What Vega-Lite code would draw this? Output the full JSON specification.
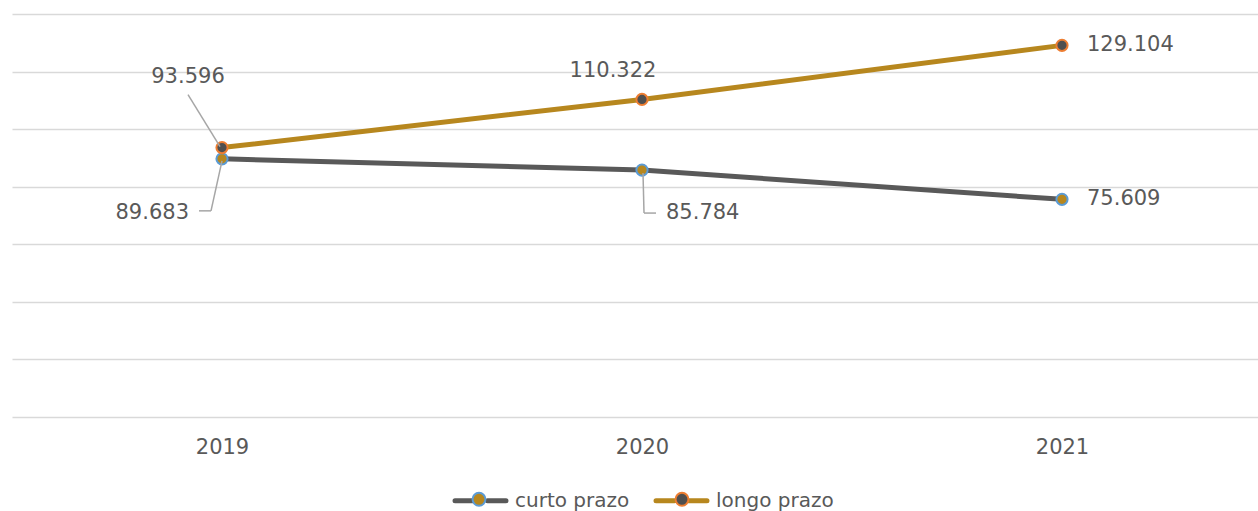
{
  "$schema": "https://vega.github.io/schema/vega-lite/v6.json",
  "width": 1246,
  "height": 403,
  "autosize": {"type": "none"},
  "padding": {"left": 12, "top": 14, "right": 0, "bottom": 94},
  "background": "white",
  "config": {"view": {"stroke": null}},
  "data": {
    "values": [
      {"year": "2019", "serie": "curto prazo", "value": 89.683},
      {"year": "2020", "serie": "curto prazo", "value": 85.784},
      {"year": "2021", "serie": "curto prazo", "value": 75.609},
      {"year": "2019", "serie": "longo prazo", "value": 93.596},
      {"year": "2020", "serie": "longo prazo", "value": 110.322},
      {"year": "2021", "serie": "longo prazo", "value": 129.104}
    ]
  },
  "encoding": {
    "x": {
      "field": "year",
      "type": "ordinal",
      "scale": {"type": "point", "padding": 0.48333, "align": 0.51724},
      "axis": {"title": null, "domain": false, "ticks": false, "grid": false, "labelAngle": 0, "labelFont": "DejaVu Sans", "labelFontSize": 21, "labelColor": "#595959", "labelPadding": 19}
    },
    "y": {
      "field": "value",
      "type": "quantitative",
      "scale": {"domain": [0, 140]},
      "axis": {"title": null, "values": [0, 20, 40, 60, 80, 100, 120, 140], "labels": false, "ticks": false, "domain": false, "grid": true, "gridColor": "#D9D9D9", "gridWidth": 1.5}
    }
  },
  "layer": [
    {
      "mark": {"type": "line", "strokeWidth": 5},
      "encoding": {
        "color": {
          "field": "serie",
          "type": "nominal",
          "scale": {"domain": ["curto prazo", "longo prazo"], "range": ["#595959", "#B7871E"]},
          "legend": {
            "title": null,
            "orient": "none",
            "legendX": 438,
            "legendY": 456,
            "direction": "horizontal",
            "symbolType": "M-0.91,0L-0.25,0M0.25,0L0.91,0",
            "symbolSize": 3136,
            "symbolStrokeWidth": 5,
            "labelFont": "DejaVu Sans",
            "labelFontSize": 20,
            "labelColor": "#595959",
            "labelOffset": 4,
            "columnPadding": 16,
            "encode": {
              "symbols": {
                "update": {
                  "strokeCap": {"value": "round"},
                  "fill": {"value": "transparent"},
                  "opacity": {"value": 1}
                }
              }
            }
          }
        }
      }
    },
    {
      "mark": {"type": "circle", "size": 125, "strokeWidth": 2, "opacity": 1},
      "encoding": {
        "fill": {
          "field": "serie", "type": "nominal",
          "scale": {"range": ["#B7871E", "#4F4F4F"]},
          "legend": {
            "title": null, "orient": "none", "legendX": 438, "legendY": 456, "direction": "horizontal",
            "symbolType": "M0.23,0A0.23,0.23,0,1,1,-0.23,0A0.23,0.23,0,1,1,0.23,0Z",
            "symbolSize": 3136, "symbolStrokeWidth": 2,
            "labelExpr": "''", "labelFontSize": 20, "labelOffset": 0, "columnPadding": 145,
            "encode": {"symbols": {"update": {"opacity": {"value": 1}}}}
          }
        },
        "stroke": {
          "field": "serie", "type": "nominal",
          "scale": {"range": ["#5B9BD5", "#ED7D31"]},
          "legend": {
            "title": null, "orient": "none", "legendX": 438, "legendY": 456, "direction": "horizontal",
            "symbolType": "M0.23,0A0.23,0.23,0,1,1,-0.23,0A0.23,0.23,0,1,1,0.23,0Z",
            "symbolSize": 3136, "symbolStrokeWidth": 2,
            "labelExpr": "''", "labelFontSize": 20, "labelOffset": 0, "columnPadding": 145,
            "encode": {"symbols": {"update": {"opacity": {"value": 1}}}}
          }
        }
      }
    },
    {
      "transform": [{"filter": "datum.serie === 'longo prazo' && datum.year === '2019'"}],
      "mark": {"type": "rule", "color": "#A6A6A6", "strokeWidth": 1.5, "xOffset": -34, "yOffset": -53, "x2Offset": -2, "y2Offset": -1},
      "encoding": {"x2": {"field": "year"}, "y2": {"field": "value"}}
    },
    {
      "transform": [{"filter": "datum.serie === 'curto prazo' && datum.year === '2019'"}],
      "mark": {"type": "rule", "color": "#A6A6A6", "strokeWidth": 1.5, "xOffset": 0, "yOffset": 2, "x2Offset": -11, "y2Offset": 52},
      "encoding": {"x2": {"field": "year"}, "y2": {"field": "value"}}
    },
    {
      "transform": [{"filter": "datum.serie === 'curto prazo' && datum.year === '2019'"}],
      "mark": {"type": "rule", "color": "#A6A6A6", "strokeWidth": 1.5, "xOffset": -11, "yOffset": 52, "x2Offset": -23, "y2Offset": 52},
      "encoding": {"x2": {"field": "year"}, "y2": {"field": "value"}}
    },
    {
      "transform": [{"filter": "datum.serie === 'curto prazo' && datum.year === '2020'"}],
      "mark": {"type": "rule", "color": "#A6A6A6", "strokeWidth": 1.5, "xOffset": 1, "yOffset": 3, "x2Offset": 2, "y2Offset": 43},
      "encoding": {"x2": {"field": "year"}, "y2": {"field": "value"}}
    },
    {
      "transform": [{"filter": "datum.serie === 'curto prazo' && datum.year === '2020'"}],
      "mark": {"type": "rule", "color": "#A6A6A6", "strokeWidth": 1.5, "xOffset": 2, "yOffset": 43, "x2Offset": 14, "y2Offset": 43},
      "encoding": {"x2": {"field": "year"}, "y2": {"field": "value"}}
    },
    {
      "transform": [{"filter": "datum.serie === 'longo prazo' && datum.year === '2019'"}],
      "mark": {"type": "text", "dx": -34, "dy": -71, "align": "center", "baseline": "middle", "font": "DejaVu Sans", "fontSize": 21, "color": "#595959"},
      "encoding": {"text": {"field": "value", "type": "quantitative", "format": ".3f"}}
    },
    {
      "transform": [{"filter": "datum.serie === 'curto prazo' && datum.year === '2019'"}],
      "mark": {"type": "text", "dx": -33, "dy": 54, "align": "right", "baseline": "middle", "font": "DejaVu Sans", "fontSize": 21, "color": "#595959"},
      "encoding": {"text": {"field": "value", "type": "quantitative", "format": ".3f"}}
    },
    {
      "transform": [{"filter": "datum.serie === 'longo prazo' && datum.year === '2020'"}],
      "mark": {"type": "text", "dx": -29, "dy": -28, "align": "center", "baseline": "middle", "font": "DejaVu Sans", "fontSize": 21, "color": "#595959"},
      "encoding": {"text": {"field": "value", "type": "quantitative", "format": ".3f"}}
    },
    {
      "transform": [{"filter": "datum.serie === 'curto prazo' && datum.year === '2020'"}],
      "mark": {"type": "text", "dx": 24, "dy": 43, "align": "left", "baseline": "middle", "font": "DejaVu Sans", "fontSize": 21, "color": "#595959"},
      "encoding": {"text": {"field": "value", "type": "quantitative", "format": ".3f"}}
    },
    {
      "transform": [{"filter": "datum.year === '2021'"}],
      "mark": {"type": "text", "dx": 25, "dy": 0, "align": "left", "baseline": "middle", "font": "DejaVu Sans", "fontSize": 21, "color": "#595959"},
      "encoding": {"text": {"field": "value", "type": "quantitative", "format": ".3f"}}
    }
  ]
}
